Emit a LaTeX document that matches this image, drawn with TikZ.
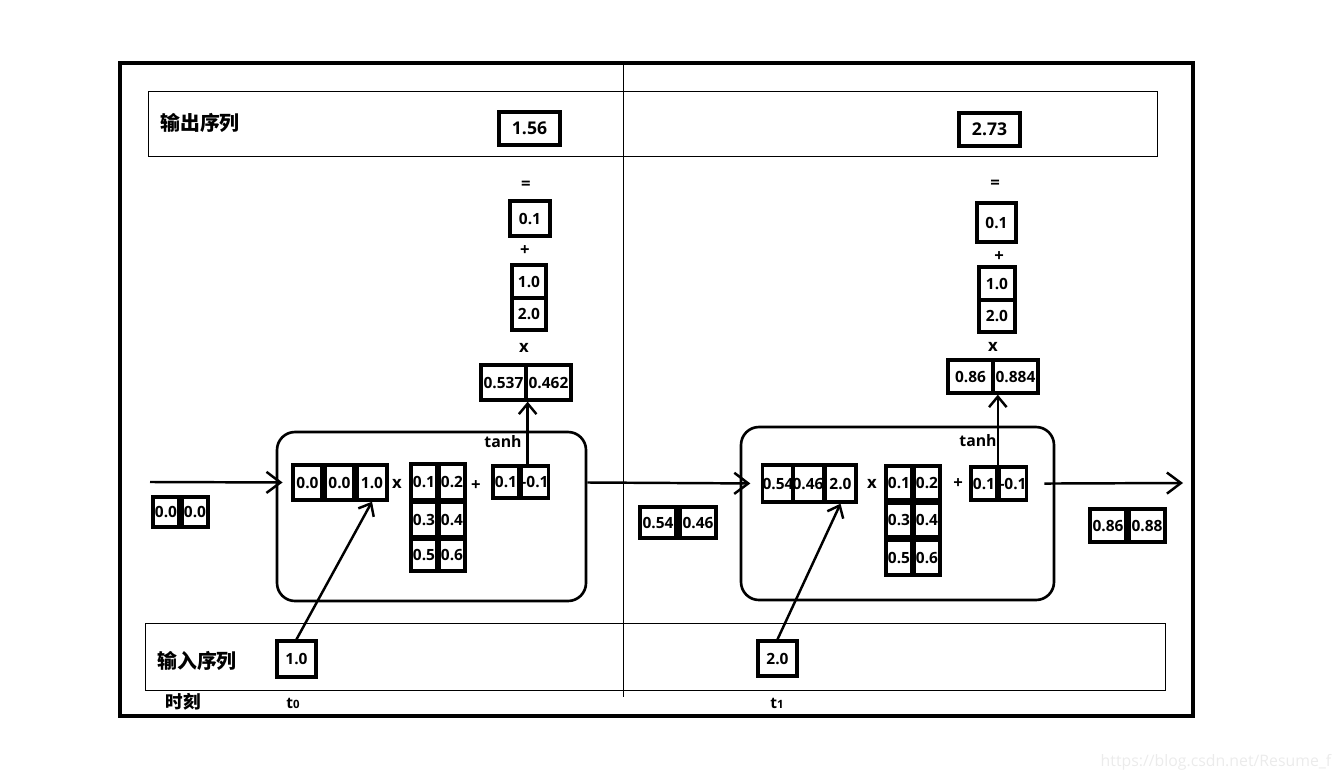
\documentclass[tikz,border=0pt]{standalone}
\usepackage{fontspec}
\setmainfont{Open Sans}
\newfontfamily\cjk{Noto Sans CJK SC}
\usetikzlibrary{arrows.meta}

\begin{document}
\begin{tikzpicture}[x=0.02cm,y=-0.02cm,
    every node/.style={font=\bfseries\fontsize{8.8}{10}\selectfont},
    num/.style 2 args={draw,line width=1.9pt,inner sep=0pt,minimum width=#1*0.02cm,minimum height=#2*0.02cm},
    big num/.style 2 args={num={#1}{#2},font=\bfseries\fontsize{10}{12}\selectfont},
    cell/.style 2 args={draw,line width=1.5pt,rounded corners=0.36cm,minimum width=#1*0.02cm,minimum height=#2*0.02cm},
    arr/.style={-{Straight Barb[length=8pt,width=12pt]},line width=1.4pt},
    small arr/.style={-{Straight Barb[length=6pt,width=10pt]},line width=1.4pt},
    band/.style={line width=0.5pt},
    title/.style={font=\cjk\bfseries\fontsize{11.3}{13}\selectfont},
    sign/.style={font=\bfseries\fontsize{9.5}{11}\selectfont}]
  \useasboundingbox (0,0) rectangle (1334,780);

  % frame, time divider and the two bands
  \draw[line width=2.5pt] (120,63) rectangle (1193,716);
  \draw[band] (623,63) -- (623,697);
  \draw[band] (148,91) rectangle (1157,156);
  \draw[band] (145,623) rectangle (1165,690);

  \node[title] (outlab) at (200,123) {输出序列};
  \node[title] (inlab) at (197,661) {输入序列};
  \node[title,font=\cjk\bfseries\fontsize{10}{12}\selectfont] (timelab) at (183,702) {时刻};
  \node (t0) at (293,703) {t{\fontsize{6.5}{8}\selectfont 0}};
  \node (t1) at (777,703) {t{\fontsize{6.5}{8}\selectfont 1}};

  \node[big num={61}{33}] (y0) at (529.5,128.5) {1.56};
  \node[big num={61}{33}] (y1) at (989.5,129.5) {2.73};
  \node[num={39}{36}] (x0) at (296.5,659) {1.0};
  \node[num={39}{35}] (x1) at (777.5,658.5) {2.0};

  % step t0
  \node[cell={309}{169}] (cellA) at (431.5,516.5) {};
  \node[num={29}{35}] (hA1) at (307.5,482.5) {0.0};
  \node[num={29}{35}] (hA2) at (339.5,482.5) {0.0};
  \node[num={30}{35}] (xA) at (372,482.5) {1.0};
  \node[sign] (timesA) at (397,484) {x};
  \node[num={26}{36}] (wA11) at (424,482) {0.1};
  \node[num={26}{36}] (wA12) at (452,482) {0.2};
  \node[num={26}{35}] (wA21) at (424,519.5) {0.3};
  \node[num={26}{35}] (wA22) at (452,519.5) {0.4};
  \node[num={26}{32}] (wA31) at (424,555) {0.5};
  \node[num={26}{32}] (wA32) at (452,555) {0.6};
  \node[sign] (plusA) at (476,486) {+};
  \node[num={26}{32}] (bA1) at (506,482) {0.1};
  \node[num={26}{32}] (bA2) at (535,482) {-0.1};
  \node[font=\bfseries\fontsize{9}{11}\selectfont] (tanhA) at (503,442) {tanh};
  \node[num={45}{35}] (oA1) at (503.5,382.5) {0.537};
  \node[num={45}{35}] (oA2) at (548.5,382.5) {0.462};
  \node[sign] (multA) at (524,348) {x};
  \node[num={34}{33}] (vA1) at (529,281.5) {1.0};
  \node[num={34}{32}] (vA2) at (529,314) {2.0};
  \node[sign] (plusA2) at (525,251) {+};
  \node[num={40}{35}] (cA) at (530,218.5) {0.1};
  \node[sign] (eqA) at (526,185) {=};
  \node[num={26}{30}] (h0a) at (166,512) {0.0};
  \node[num={26}{30}] (h0b) at (195,512) {0.0};

  % step t1
  \node[cell={313}{173}] (cellB) at (897.5,513.5) {};
  \node[num={28}{37}] (hB1) at (778,483.5) {0.54};
  \node[num={28}{37}] (hB2) at (808,483.5) {0.46};
  \node[num={31}{37}] (xB) at (840.5,483.5) {2.0};
  \node[sign] (timesB) at (872,484) {x};
  \node[num={26}{34}] (wB11) at (899,483) {0.1};
  \node[num={26}{34}] (wB12) at (927,483) {0.2};
  \node[num={26}{34}] (wB21) at (899,520) {0.3};
  \node[num={26}{34}] (wB22) at (927,520) {0.4};
  \node[num={26}{35}] (wB31) at (899,557.5) {0.5};
  \node[num={26}{35}] (wB32) at (927,557.5) {0.6};
  \node[sign] (plusB) at (958,484) {+};
  \node[num={26}{33}] (bB1) at (984,483.5) {0.1};
  \node[num={26}{33}] (bB2) at (1013,483.5) {-0.1};
  \node[font=\bfseries\fontsize{9}{11}\selectfont] (tanhB) at (978,441) {tanh};
  \node[num={45}{33}] (oB1) at (970.5,376.5) {0.86};
  \node[num={45}{33}] (oB2) at (1015.5,376.5) {0.884};
  \node[sign] (multB) at (993,347) {x};
  \node[num={36}{33}] (vB1) at (997,283.5) {1.0};
  \node[num={36}{32}] (vB2) at (997,316) {2.0};
  \node[sign] (plusB2) at (999,257) {+};
  \node[num={39}{39}] (cB) at (996.5,222.5) {0.1};
  \node[sign] (eqB) at (995,184) {=};
  \node[num={36}{31}] (h1a) at (658,522.5) {0.54};
  \node[num={36}{31}] (h1b) at (698,522.5) {0.46};
  \node[num={36}{33}] (h2a) at (1108,525.5) {0.86};
  \node[num={36}{33}] (h2b) at (1147,525.5) {0.88};

  \coordinate (hin) at (150,482);
  \coordinate (hout) at (1183,483);

  \draw[arr,shorten >=5pt] (hin) -- (hA1.west);
  \draw[arr,shorten >=6pt] (cellA.east |- hA1.east) -- (hB1.west);
  \draw[arr,shorten <=-11*0.02cm] (cellB.east |- hB1.east) -- (hout);
  \draw[small arr] (oA1.south east |- bA2.north) -- (oA1.south east);
  \draw[small arr] (bB2.north west) -- (bB2.north west |- oB1.south);
  \draw[small arr] (x0.north) -- (xA.south);
  \draw[small arr] (x1.north) -- (xB.south);

  \node[text=black!8,font=\fontsize{9}{10}\selectfont] (mark) at (1216,762) {https://blog.csdn.net/Resume\_f};
\end{tikzpicture}
\end{document}
